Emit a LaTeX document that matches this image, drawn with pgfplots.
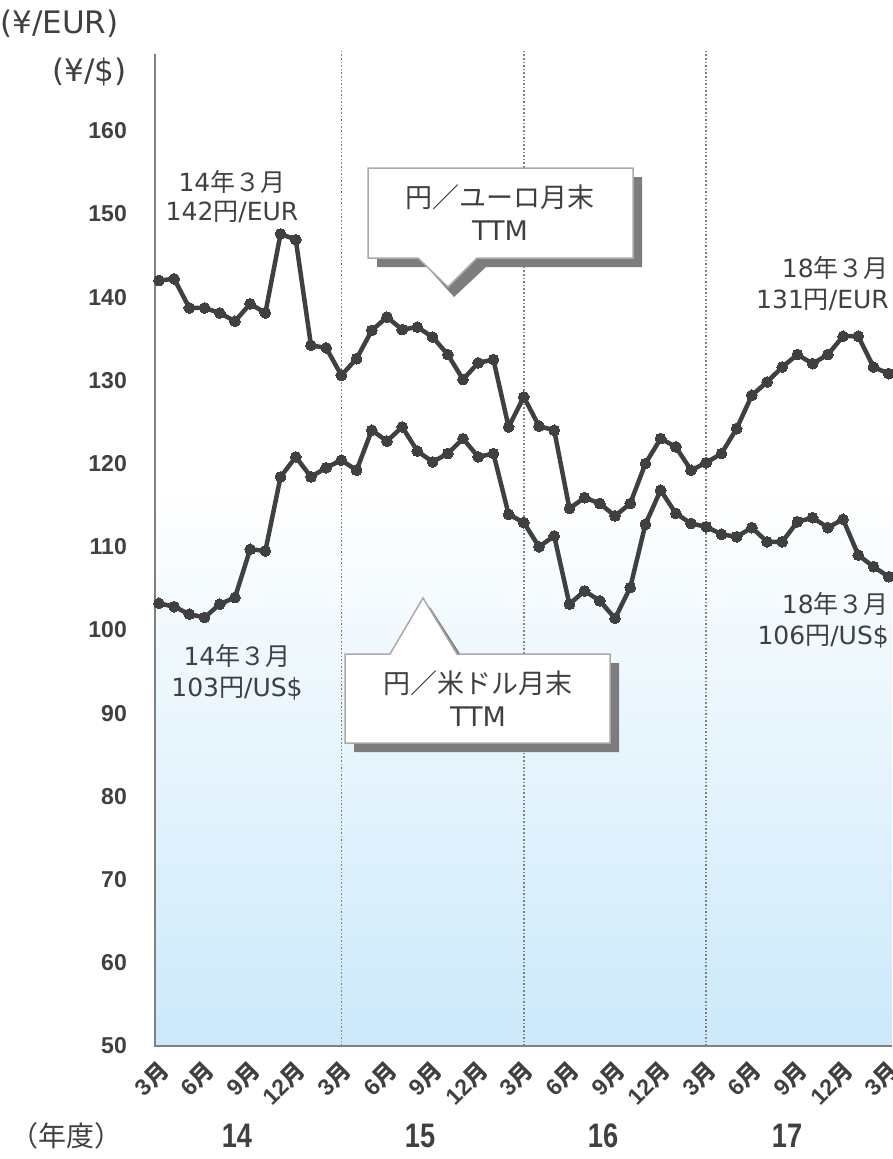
\documentclass[border=0pt]{standalone}
\usepackage{fontspec}
\usepackage{graphicx}
\usepackage{pgfplots}
\pgfplotsset{compat=1.18}
\setmainfont{DejaVu Sans}
\newfontfamily\cjk{Noto Sans CJK JP}
\newfontfamily\lsans{Liberation Sans}
\definecolor{linec}{RGB}{64,64,64}
\definecolor{axisc}{RGB}{128,128,128}
\definecolor{bgblue}{RGB}{204,233,250}
\definecolor{boxc}{RGB}{170,170,170}
\definecolor{shadowc}{RGB}{125,125,125}
\definecolor{textc}{RGB}{64,64,64}
\newcommand{\M}[1]{{\lsans\bfseries #1}{\cjk\bfseries 月}}
\pgfplotstableread{
x y
0 142.0
1 142.2
2 138.7
3 138.7
4 138.1
5 137.1
6 139.2
7 138.1
8 147.6
9 146.9
10 134.2
11 133.9
12 130.6
13 132.6
14 136.0
15 137.6
16 136.1
17 136.4
18 135.2
19 133.1
20 130.1
21 132.1
22 132.5
23 124.4
24 128.0
25 124.5
26 124.0
27 114.6
28 115.9
29 115.2
30 113.7
31 115.2
32 120.0
33 123.0
34 122.0
35 119.2
36 120.1
37 121.2
38 124.2
39 128.2
40 129.8
41 131.6
42 133.1
43 132.0
44 133.1
45 135.3
46 135.3
47 131.6
48 130.8
}\eurdata
\pgfplotstableread{
x y
0 103.2
1 102.8
2 101.9
3 101.5
4 103.1
5 103.9
6 109.7
7 109.5
8 118.4
9 120.8
10 118.4
11 119.5
12 120.4
13 119.2
14 124.0
15 122.7
16 124.4
17 121.5
18 120.2
19 121.2
20 123.0
21 120.8
22 121.2
23 113.9
24 112.9
25 110.0
26 111.3
27 103.1
28 104.7
29 103.5
30 101.4
31 105.1
32 112.7
33 116.8
34 114.0
35 112.8
36 112.4
37 111.5
38 111.2
39 112.3
40 110.6
41 110.6
42 113.0
43 113.5
44 112.3
45 113.3
46 109.0
47 107.6
48 106.4
}\usddata
\begin{document}
\begin{tikzpicture}
\useasboundingbox (0,0) rectangle (892pt,-1159pt);
\begin{axis}[
  at={(155pt,-1046pt)}, anchor=south west,
  width=737pt, height=996pt, scale only axis,
  xmin=-0.26, xmax=48.22, ymin=50, ymax=169.7,
  axis line style={draw=none},
  clip=false,
  major tick length=0pt,
  /pgf/number format/assume math mode=true,
  ytick={50,60,...,160},
  xtick={0,3,...,48},
  xticklabels={\M{3},\M{6},\M{9},\M{12},\M{3},\M{6},\M{9},\M{12},\M{3},\M{6},\M{9},\M{12},\M{3},\M{6},\M{9},\M{12},\M{3}},
  yticklabel style={font=\lsans\bfseries\fontsize{23}{26}\selectfont, text=textc, anchor=east, inner sep=0pt, xshift=-28pt},
  xticklabel style={font=\fontsize{23}{25}\selectfont, text=textc, rotate=45, anchor=east, inner sep=0pt, xshift=-10pt, yshift=-18pt},
]
\fill[top color=white, bottom color=bgblue] (rel axis cs:0,0) rectangle (axis cs:48.22,118);
\foreach \v in {12,24,36}{
  \edef\tmp{\noexpand\draw[axisc, line width=1.6pt, dotted] (axis cs:\v,50) -- (axis cs:\v,169.7);}\tmp
}
\draw[axisc, line width=2.5pt] (axis cs:-0.26,169.2) -- (axis cs:-0.26,50) -- (axis cs:48.22,50);
\addplot[linec, line width=4.5pt, line join=round, mark=*, mark size=5.4pt, mark options={solid, fill=linec, draw=linec, line width=0pt}] table[x=x,y=y] {\eurdata};
\addplot[linec, line width=4.5pt, line join=round, mark=*, mark size=5.4pt, mark options={solid, fill=linec, draw=linec, line width=0pt}] table[x=x,y=y] {\usddata};
\end{axis}
% callout EUR
\fill[shadowc] (377pt,-177pt) -- (642pt,-177pt) -- (642pt,-267pt) -- (486pt,-267pt) -- (454pt,-297pt) -- (427pt,-267pt) -- (377pt,-267pt) -- cycle;
\filldraw[fill=white, draw=boxc, line width=1.5pt] (368pt,-168pt) -- (633pt,-168pt) -- (633pt,-258pt) -- (477pt,-258pt) -- (448pt,-287pt) -- (418pt,-258pt) -- (368pt,-258pt) -- cycle;
\node[text=textc, font=\fontsize{27}{33}\selectfont, align=center] at (500pt,-213pt) {{\cjk 円／ユーロ月末}\\TTM};
% callout USD
\fill[shadowc] (354pt,-663pt) -- (399pt,-663pt) -- (430pt,-607pt) -- (466pt,-663pt) -- (619pt,-663pt) -- (619pt,-752pt) -- (354pt,-752pt) -- cycle;
\filldraw[fill=white, draw=boxc, line width=1.5pt] (345pt,-654pt) -- (390pt,-654pt) -- (423pt,-598pt) -- (457pt,-654pt) -- (610pt,-654pt) -- (610pt,-743pt) -- (345pt,-743pt) -- cycle;
\node[text=textc, font=\fontsize{27}{33}\selectfont, align=center] at (478pt,-699pt) {{\cjk 円／米ドル月末}\\TTM};
% annotations
\node[text=textc, font=\fontsize{25}{29}\selectfont, align=center] at (232pt,-197pt) {14{\cjk 年３月}\\142{\cjk 円}/EUR};
\node[text=textc, font=\fontsize{25}{31}\selectfont, align=right, anchor=east, inner sep=0pt] at (889pt,-284pt) {18{\cjk 年３月}\\131{\cjk 円}/EUR};
\node[text=textc, font=\fontsize{25}{31}\selectfont, align=center] at (237pt,-672pt) {14{\cjk 年３月}\\103{\cjk 円}/US\$};
\node[text=textc, font=\fontsize{25}{31}\selectfont, align=right, anchor=east, inner sep=0pt] at (889pt,-620pt) {18{\cjk 年３月}\\106{\cjk 円}/US\$};
% unit labels
\node[text=textc, font=\fontsize{31}{34}\selectfont, anchor=west, inner sep=0pt] at (0pt,-24pt) {(¥/EUR)};
\node[text=textc, font=\fontsize{31}{34}\selectfont, anchor=east, inner sep=0pt] at (127pt,-72pt) {(¥/\$)};
% years
\foreach \px/\yr in {237/14,420/15,603/16,787/17}{
  \node[text=textc, font=\lsans\bfseries\fontsize{34}{34}\selectfont, inner sep=0pt] at (\px pt,-1136pt) {\scalebox{0.8}[1]{\yr}};
}
\node[text=textc, font=\cjk\fontsize{28}{30}\selectfont, inner sep=0pt] at (66pt,-1136pt) {（年度）};
\end{tikzpicture}
\end{document}
